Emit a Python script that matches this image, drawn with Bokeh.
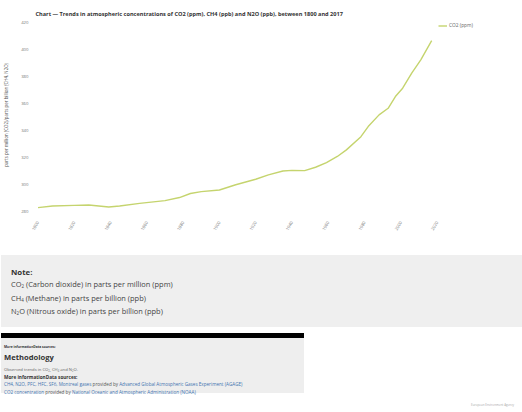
import math
from bokeh.plotting import figure
from bokeh.models import Div, FixedTicker, Range1d
from bokeh.layouts import column
from bokeh.embed import file_html
from bokeh.resources import INLINE

# ---------------- data ----------------
years = [1800, 1808, 1820, 1828, 1839, 1845, 1856, 1870, 1878, 1884, 1890,
         1900, 1909, 1920, 1927, 1935, 1940, 1947, 1953, 1959, 1965, 1970,
         1978, 1982, 1988, 1993, 1997, 2001, 2006, 2011, 2017]
co2_ppm = [282.5, 283.7, 284.2, 284.5, 283.0, 283.7, 285.7, 287.7, 290.0, 293.0, 294.4,
           295.6, 299.5, 303.6, 306.8, 309.7, 310.2, 310.0, 312.5, 316.0, 320.5, 325.4,
           335.2, 342.7, 351.4, 356.3, 365.0, 371.2, 382.4, 392.3, 406.5]
x_ticks = [1800, 1820, 1840, 1860, 1880, 1900, 1920, 1940, 1960, 1980, 2000, 2020]
y_ticks = [280, 300, 320, 340, 360, 380, 400, 420]
series_name = "CO2 (ppm)"
title_text = ("Chart \u2014 Trends in atmospheric concentrations of CO2 (ppm), "
              "CH4 (ppb) and N2O (ppb), between 1800 and 2017")
y_label = "parts per million (CO2)/parts per billion (CH4, N2O)"

note_title = "Note:"
note_lines = [("CO", "2", " (Carbon dioxide) in parts per million (ppm)"),
              ("CH", "4", " (Methane) in parts per billion (ppb)"),
              ("N", "2", "O (Nitrous oxide) in parts per billion (ppb)")]
more_info = "More informationData sources:"
methodology = "Methodology"
observed = [("Observed trends in CO", "2"), (", CH", "4"), (" and N", "2"), ("O.", "")]
source_lines = [("CH4, N2O, PFC, HFC, SF6, Montreal gases", "Advanced Global Atmospheric Gases Experiment (AGAGE)"),
                ("CO2 concentration", "National Oceanic and Atmospheric Administration (NOAA)")]
footer = "European Environment Agency"

FONT = "Open Sans"
LINE_COLOR = "#c5d46e"

# ---------------- chart ----------------
p = figure(width=514, height=250, output_backend="svg", toolbar_location=None,
           x_range=Range1d(1798.62, 2059.9), y_range=Range1d(278.89, 423.71),
           min_border_left=35, min_border_right=5, min_border_top=17,
           min_border_bottom=38, title=title_text)
p.title.text_font = FONT
p.title.text_font_size = "5.6px"
p.title.text_font_style = "bold"
p.title.text_color = "#333333"
p.title.offset = 0
p.title.standoff = 0

p.line(years, co2_ppm, line_color=LINE_COLOR, line_width=1.4, legend_label=series_name)

p.grid.visible = False
p.outline_line_color = None
p.background_fill_color = "white"
p.border_fill_color = "white"

for ax in (p.xaxis[0], p.yaxis[0]):
    ax.axis_line_color = None
    ax.major_tick_line_color = None
    ax.minor_tick_line_color = None
    ax.major_label_text_font = FONT
    ax.major_label_text_font_size = "4.3px"
    ax.major_label_text_color = "#777777"
    ax.major_label_standoff = 3
p.yaxis.major_label_standoff = 1
p.xaxis.ticker = FixedTicker(ticks=x_ticks)
p.yaxis.ticker = FixedTicker(ticks=y_ticks)
p.xaxis.major_label_orientation = math.pi / 3
p.yaxis.axis_label = y_label
p.yaxis.axis_label_text_font = FONT
p.yaxis.axis_label_text_font_size = "4.4px"
p.yaxis.axis_label_text_font_style = "normal"
p.yaxis.axis_label_text_color = "#555555"
p.yaxis.axis_label_standoff = 9

lg = p.legend[0]
lg.location = (403, 184)
lg.padding = 0
lg.margin = 0
lg.spacing = 0
lg.border_line_color = None
lg.background_fill_alpha = 0
lg.glyph_width = 9
lg.glyph_height = 5
lg.label_height = 5
lg.label_standoff = 2
lg.label_text_font = FONT
lg.label_text_font_size = "4.8px"
lg.label_text_color = "#666666"


# ---------------- lower page part ----------------
def txt(center_y, left, size, html, weight=400, color="#444444"):
    lh = round(size * 1.3, 2)
    top = round(center_y - lh / 2, 2)
    return ('<div style="position:absolute;left:%spx;top:%spx;font-family:\'%s\';'
            'font-size:%spx;line-height:%spx;font-weight:%d;color:%s;white-space:nowrap">%s</div>'
            % (left, top, FONT, size, lh, weight, color, html))


def sub(s):
    return '<span style="font-size:60%%;vertical-align:-0.25em">%s</span>' % s


LINK = "#3f73b0"
parts = []
parts.append('<div style="position:absolute;left:-4px;top:0px;width:522px;height:72px;background:#efefef"></div>')
parts.append('<div style="position:absolute;left:-4px;top:78px;width:303px;height:5px;background:#000000"></div>')
parts.append('<div style="position:absolute;left:-4px;top:83px;width:303px;height:55px;background:#eeeeee"></div>')
parts.append(txt(16.7, 6, 7.8, note_title, 700, "#333333"))
for i, (a, s, b) in enumerate(note_lines):
    parts.append(txt(30.3 + i * 13.3, 6, 7.45, a + sub(s) + b, 400, "#444444"))
parts.append(txt(92, -1, 3.3, more_info, 700, "#333333"))
parts.append(txt(102.7, -1, 7.6, methodology, 700, "#333333"))
parts.append(txt(115, -1, 4.2, "".join(a + (sub(s) if s else "") for a, s in observed), 400, "#666666"))
parts.append(txt(122, -1, 4.7, more_info, 700, "#333333"))
for i, (l1, l2) in enumerate(source_lines):
    html = ('<span style="color:%s">%s</span> provided by <span style="color:%s">%s</span>'
            % (LINK, l1, LINK, l2))
    parts.append(txt(129.3 + i * 7.7, -1, 4.6, html, 400, "#555555"))
parts.append(txt(151, 466, 3, footer, 400, "#aaaaaa"))

lower = Div(text='<div style="position:relative;width:514px;height:154px">' + "".join(parts) + "</div>",
            width=514, height=154)

layout = column(p, lower, spacing=0)
open("out.html", "w").write(file_html(layout, INLINE))
